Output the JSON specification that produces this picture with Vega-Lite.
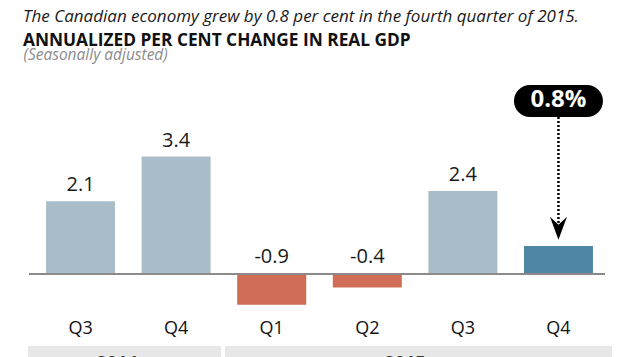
{
  "$schema": "https://vega.github.io/schema/vega-lite/v6.json",
  "width": 576,
  "height": 279,
  "autosize": {"type": "none"},
  "padding": {"left": 29, "right": 30, "top": 67, "bottom": 11},
  "background": "white",
  "config": {"view": {"stroke": null}},
  "title": {
    "text": "The Canadian economy grew by 0.8 per cent in the fourth quarter of 2015.",
    "subtitle": "ANNUALIZED PER CENT CHANGE IN REAL GDP",
    "anchor": "start",
    "frame": "group",
    "dx": -6,
    "dy": 20.5,
    "offset": 18,
    "font": "Open Sans",
    "fontSize": 17,
    "fontStyle": "italic",
    "fontWeight": "normal",
    "color": "#1a1a1a",
    "subtitleFont": "Open Sans",
    "subtitleFontSize": 17.3,
    "subtitleFontWeight": "bold",
    "subtitleFontStyle": "normal",
    "subtitleColor": "#111111",
    "subtitlePadding": 6
  },
  "resolve": {"scale": {"x": "independent"}},
  "layer": [
    {
      "data": {"values": [
        {"year": "2014", "start": -0.549, "end": 1.47, "mid": 0.382},
        {"year": "2015", "start": 1.512, "end": 5.56, "mid": 3.395}
      ]},
      "layer": [
        {
          "mark": {"type": "rect", "color": "#e7e7e7"},
          "encoding": {
            "x": {"field": "start", "type": "quantitative", "scale": {"domain": [-0.539, 5.487], "nice": false, "zero": false}, "axis": null},
            "x2": {"field": "end"},
            "y": {"datum": -2.1},
            "y2": {"datum": -3.5}
          }
        },
        {
          "mark": {"type": "text", "font": "Open Sans", "fontSize": 18, "fontWeight": "bold", "color": "#333333", "baseline": "alphabetic"},
          "encoding": {
            "x": {"field": "mid", "type": "quantitative"},
            "y": {"datum": -2.77},
            "text": {"field": "year", "type": "nominal"}
          }
        }
      ]
    },
    {
      "data": {"values": [
        {"period": "2014 Q3", "value": 2.1, "kind": "base"},
        {"period": "2014 Q4", "value": 3.4, "kind": "base"},
        {"period": "2015 Q1", "value": -0.9, "kind": "neg"},
        {"period": "2015 Q2", "value": -0.4, "kind": "neg"},
        {"period": "2015 Q3", "value": 2.4, "kind": "base"},
        {"period": "2015 Q4", "value": 0.8, "kind": "current"}
      ]},
      "layer": [
        {
          "mark": {"type": "bar"},
          "encoding": {
            "x": {
              "field": "period", "type": "nominal", "sort": null,
              "scale": {"paddingInner": 0.278, "paddingOuter": 0.152, "align": 0.586},
              "axis": {
                "orient": "bottom",
                "title": null, "labelExpr": "substring(datum.label, 5)", "labelAngle": 0,
                "ticks": false, "tickSize": 0, "domain": false, "grid": false,
                "labelPadding": -13, "labelBaseline": "alphabetic",
                "labelFont": "Open Sans", "labelFontSize": 18, "labelColor": "#111111"
              }
            },
            "y": {
              "field": "value", "type": "quantitative",
              "scale": {"domain": [-2.1, 6], "nice": false, "zero": false},
              "axis": {
                "title": "(Seasonally adjusted)", "labels": false, "ticks": false, "domain": false, "grid": false,
                "titleAngle": 0, "titleAlign": "left", "titleBaseline": "alphabetic",
                "titleX": -6, "titleY": -7.5,
                "titleFont": "Open Sans", "titleFontSize": 15.5, "titleFontStyle": "italic", "titleFontWeight": "normal", "titleColor": "#8c8c8c"
              }
            },
            "y2": {"datum": 0},
            "color": {
              "field": "kind", "type": "nominal",
              "scale": {"domain": ["base", "neg", "current"], "range": ["#a9bdc8", "#cf6d56", "#4f86a6"]},
              "legend": null
            }
          }
        },
        {
          "mark": {"type": "rule", "color": "#8a8a8a", "strokeWidth": 1.5},
          "encoding": {"y": {"datum": 0}}
        },
        {
          "transform": [{"filter": "datum.value > 0 && datum.kind != 'current'"}],
          "mark": {"type": "text", "font": "Open Sans", "fontSize": 20, "color": "#1a1a1a", "baseline": "alphabetic", "dy": -10},
          "encoding": {
            "x": {"field": "period", "type": "nominal", "sort": null},
            "y": {"field": "value", "type": "quantitative"},
            "text": {"field": "value", "type": "nominal"}
          }
        },
        {
          "transform": [{"filter": "datum.value < 0"}],
          "mark": {"type": "text", "font": "Open Sans", "fontSize": 20, "color": "#1a1a1a", "baseline": "alphabetic", "dy": -11},
          "encoding": {
            "x": {"field": "period", "type": "nominal", "sort": null},
            "y": {"datum": 0},
            "text": {"field": "value", "type": "nominal"}
          }
        },
        {
          "transform": [{"filter": "datum.kind == 'current'"}],
          "mark": {"type": "rule", "color": "black", "strokeWidth": 2.5, "strokeDash": [2, 2]},
          "encoding": {
            "x": {"field": "period", "type": "nominal", "sort": null},
            "y": {"datum": 4.55},
            "y2": {"datum": 1.45}
          }
        },
        {
          "transform": [{"filter": "datum.kind == 'current'"}],
          "mark": {"type": "point", "shape": "M-1,-1.35L0,-0.4L1,-1.35L0,1.35Z", "size": 289, "filled": true, "color": "black", "opacity": 1},
          "encoding": {
            "x": {"field": "period", "type": "nominal", "sort": null},
            "y": {"datum": 1.318}
          }
        },
        {
          "transform": [{"filter": "datum.kind == 'current'"}],
          "mark": {"type": "bar", "width": 89, "cornerRadius": 16, "color": "black"},
          "encoding": {
            "x": {"field": "period", "type": "nominal", "sort": null},
            "y": {"datum": 5.48},
            "y2": {"datum": 4.55}
          }
        },
        {
          "transform": [{"filter": "datum.kind == 'current'"}],
          "mark": {"type": "text", "font": "Open Sans", "fontSize": 24, "fontWeight": "bold", "color": "white", "baseline": "alphabetic"},
          "encoding": {
            "x": {"field": "period", "type": "nominal", "sort": null},
            "y": {"datum": 4.84},
            "text": {"value": "0.8%"}
          }
        }
      ]
    }
  ]
}
